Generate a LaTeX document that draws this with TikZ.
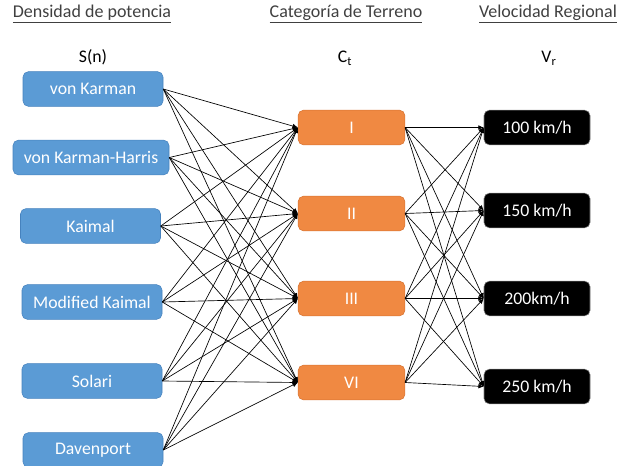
\documentclass[tikz,border=0pt]{standalone}
\usepackage{fontspec}
\setmainfont{Carlito}
\usepackage{xcolor}
\usepackage{tikz}
\usetikzlibrary{arrows.meta}
\definecolor{SpecBlue}{RGB}{91, 155, 213}
\definecolor{SpecBlueLine}{RGB}{70, 130, 190}
\definecolor{TerrOrange}{RGB}{240, 137, 66}
\definecolor{TerrOrangeLine}{RGB}{215, 115, 50}
\definecolor{TitleGray}{RGB}{64, 64, 64}
\tikzset{
  spec/.style={rectangle, rounded corners=4pt, minimum width=105pt,
    minimum height=26pt, text centered, draw=SpecBlueLine, line width=0.4pt,
    fill=SpecBlue, font=\fontsize{13.3}{15}\selectfont, text=white},
  terr/.style={rectangle, rounded corners=4pt, minimum width=80pt,
    minimum height=26pt, text centered, draw=TerrOrangeLine, line width=0.4pt,
    fill=TerrOrange, font=\fontsize{13.3}{15}\selectfont, text=white},
  vel/.style={rectangle, rounded corners=4pt, minimum width=79.5pt,
    minimum height=26pt, text centered, draw=gray, line width=0.4pt,
    fill=black, font=\fontsize{13.3}{15}\selectfont, text=white},
  head/.style={font=\fontsize{13.5}{15}\selectfont, text=TitleGray},
  sym/.style={font=\fontsize{13.3}{15}\selectfont, text=black},
  link/.style={-{Latex[length=4pt,width=3.5pt]}, line width=0.5pt, color=black},
}
\begin{document}
\begin{tikzpicture}[x=0.75pt, y=-0.75pt]
  \useasboundingbox (0,0) rectangle (628,465);
  % column headings
  \node[head] (hspec) at (92,14) {\underline{Densidad de potencia}};
  \node[head] (hterr) at (346,14) {\underline{Categoría de Terreno}};
  \node[head] (hvel)  at (548,14) {\underline{Velocidad Regional}};
  \node[sym] (sspec) at (93,57) {S(n)};
  \node[sym] (sterr) at (345,58) {C\textsubscript{t}};
  \node[sym] (svel)  at (549,58) {V\textsubscript{r}};
  % spectra
  \node[spec] (s1) at (93,89)    {von Karman};
  \node[spec, minimum width=117pt] (s2) at (91,157.5) {von Karman-Harris};
  \node[spec] (s3) at (90.5,226) {Kaimal};
  \node[spec] (s4) at (92,302)   {Modified Kaimal};
  \node[spec] (s5) at (92,381)   {Solari};
  \node[spec] (s6) at (93,450)   {Davenport};
  % terrain categories
  \node[terr] (c1) at (351.5,127.5) {I};
  \node[terr] (c2) at (351.5,213.5) {II};
  \node[terr] (c3) at (351.5,298.5) {III};
  \node[terr] (c4) at (351.5,382.5) {VI};
  % regional speeds
  \node[vel] (v1) at (537,127.5) {100 km/h};
  \node[vel] (v2) at (537,210.5) {150 km/h};
  \node[vel] (v3) at (537,298.5) {200km/h};
  \node[vel] (v4) at (537,386.5) {250 km/h};
  % connectors
  \foreach \i in {1,...,6}
    \foreach \j in {1,...,4}
      \draw[link] (s\i.east) -- (c\j.west);
  \foreach \j in {1,...,4}
    \foreach \k in {1,...,4}
      \draw[link] (c\j.east) -- (v\k.west);
\end{tikzpicture}
\end{document}
